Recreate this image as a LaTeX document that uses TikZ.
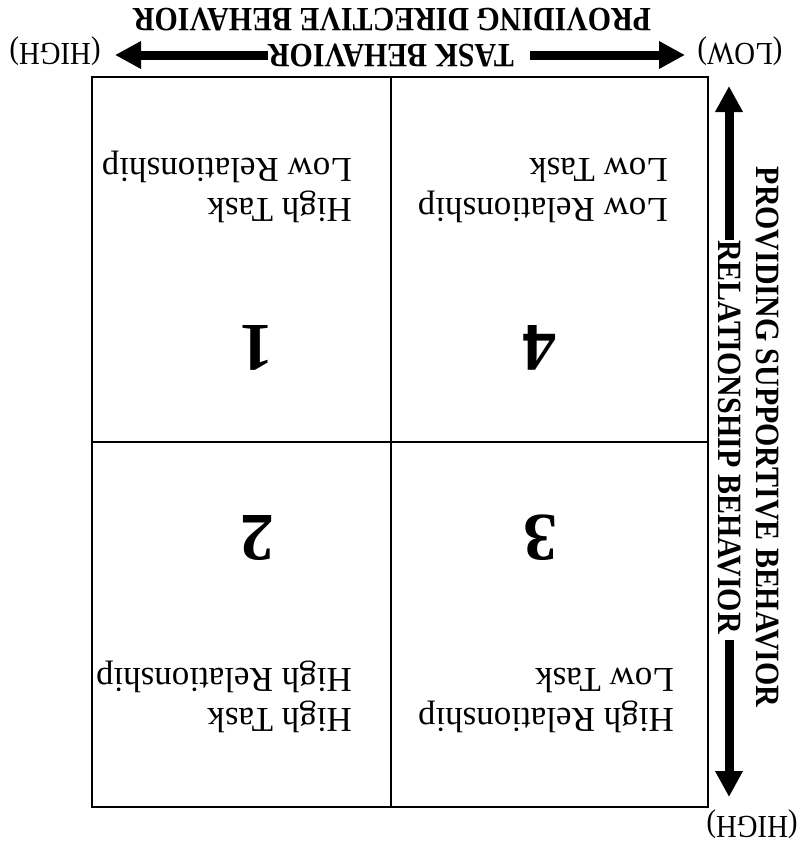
\documentclass[tikz,border=0pt]{standalone}
\usepackage{fontspec}
\usepackage{graphicx}
\setmainfont{Liberation Serif}
\usetikzlibrary{arrows.meta}
\newcommand{\hdrtext}[1]{\scalebox{0.88}[1]{#1}}
\newcommand{\lvltext}[1]{\scalebox{0.9}[1]{#1}}
\begin{document}
\begin{tikzpicture}[x=1pt,y=-1pt,
  hdr/.style={font=\fontsize{34}{40}\selectfont\bfseries, inner sep=0pt},
  lvl/.style={font=\fontsize{32}{38}\selectfont, inner sep=0pt, rotate=180},
  qtext/.style={font=\fontsize{35}{41}\selectfont, inner sep=0pt, rotate=180, anchor=base west},
  num/.style={font=\fontsize{68}{80}\selectfont\bfseries, inner sep=0pt, rotate=180},
  gridline/.style={line width=1.8pt, black},
  bigarrow/.style={line width=9pt, -{Triangle[length=26pt,width=26pt]}},
]
\useasboundingbox (0,0) rectangle (803,844);
% box and dividers
\coordinate (tl) at (92,77);
\coordinate (br) at (708,807);
\coordinate (vt) at (391,77);
\coordinate (vb) at (391,807);
\coordinate (hl) at (92,442);
\coordinate (hr) at (708,442);
\draw[gridline] (tl) rectangle (br);
\draw[gridline] (vt) -- (vb);
\draw[gridline] (hl) -- (hr);

% top titles
\node[hdr, rotate=180] (dir) at (392,19) {\hdrtext{PROVIDING DIRECTIVE BEHAVIOR}};
\node[hdr, rotate=180] (task) at (391,55) {\hdrtext{TASK BEHAVIOR}};
\coordinate (hL) at (115,55);
\coordinate (hR) at (685,55);
\draw[bigarrow] (task.east) -- (hL);
\draw[bigarrow, shorten <=16pt] (task.west) -- (hR);
\node[lvl] (hiT) at (55,51) {\lvltext{(HIGH)}};
\node[lvl] (loT) at (740,51) {\lvltext{(LOW)}};

% right titles
\node[hdr, rotate=-90] (sup) at (767,437) {\hdrtext{PROVIDING SUPPORTIVE BEHAVIOR}};
\node[hdr, rotate=-90] (rel) at (729,437) {\hdrtext{RELATIONSHIP BEHAVIOR}};
\coordinate (vT) at (729,86);
\coordinate (vB) at (729,797);
\draw[bigarrow] (rel.west) -- (vT);
\draw[bigarrow, shorten <=6pt] (rel.east) -- (vB);
\node[lvl] (hiR) at (752,824) {\lvltext{(HIGH)}};

% quadrant texts
\node[qtext] (q1a) at (352,198) {High Task};
\node[qtext] (q1b) at (352,158) {Low Relationship};
\node[qtext] (q4a) at (668,198) {Low Relationship};
\node[qtext] (q4b) at (668,158) {Low Task};
\node[qtext] (q2a) at (352,708) {High Task};
\node[qtext] (q2b) at (352,668) {High Relationship};
\node[qtext] (q3a) at (674,708) {High Relationship};
\node[qtext] (q3b) at (674,668) {Low Task};

% numbers
\node[num] (n1) at (256,348) {1};
\node[num] (n4) at (539,348) {4};
\node[num] (n2) at (257,538) {2};
\node[num] (n3) at (540,538) {3};
\end{tikzpicture}
\end{document}
